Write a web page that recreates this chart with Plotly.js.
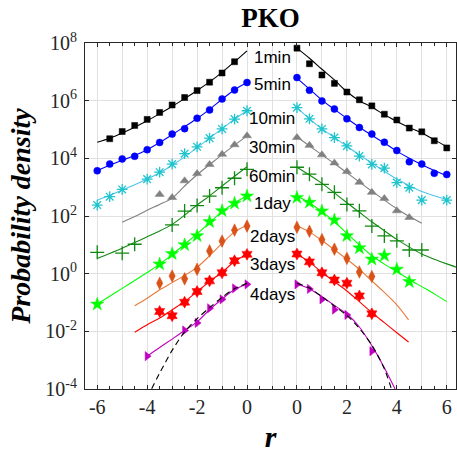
<!DOCTYPE html>
<html><head><meta charset="utf-8">
<script src="https://cdn.plot.ly/plotly-3.0.1.min.js"></script>
<style>html,body{margin:0;padding:0;background:#fff}#chart{width:457px;height:453px}</style>
</head><body><div id="chart"></div>
<script>
// ---- DATA: values are log10(probability density) ----
// left panel: r <= 0 ; right panel: r >= 0
const seriesNames = ["1min","5min","10min","30min","60min","1day","2days","3days","4days"];

// 1min
const min1_rL = [-5.5,-5,-4.5,-4,-3.5,-3,-2.5,-2,-1.5,-1,-0.5];
const min1_yL = [4.68,4.93,5.14,5.35,5.59,5.85,6.11,6.35,6.64,6.96,7.35];
const min1_rR = [0,0.5,1,1.5,2,2.5,3,3.5,4,4.5,5,5.5,6];
const min1_yR = [7.82,7.28,6.89,6.60,6.30,6.03,5.82,5.53,5.33,5.05,4.92,4.61,4.36];
const min1_fitRL = [-6,-5.5,-5,-4.5,-4,-3.5,-3,-2.5,-2,-1.5,-1,-0.5,0];
const min1_fitL = [4.56,4.70,4.88,5.08,5.30,5.55,5.80,6.07,6.35,6.65,6.98,7.35,7.73];
const min1_fitRR = [0,0.5,1,1.5,2,2.5,3,3.5,4,4.5,5,5.5,6];
const min1_fitR = [7.82,7.47,7.09,6.72,6.31,6.00,5.78,5.51,5.28,5.07,4.88,4.64,4.41];

// 5min
const min5_rL = [-6,-5.5,-5,-4.5,-4,-3.5,-3,-2.5,-2,-1.5,-1,-0.5,0];
const min5_yL = [3.57,3.80,3.98,4.07,4.30,4.55,4.84,5.03,5.39,5.68,6.06,6.37,6.63];
const min5_rR = [0,0.5,1,1.5,2,2.5,3,3.5,4,4.5,5,5.5,6];
const min5_yR = [6.80,6.36,5.99,5.71,5.37,5.07,4.84,4.56,4.27,3.88,3.80,3.48,3.44];
const min5_fitRL = [-6,-5.5,-5,-4.5,-4,-3.5,-3,-2.5,-2,-1.5,-1,-0.5,0];
const min5_fitL = [3.57,3.76,3.93,4.10,4.30,4.55,4.82,5.10,5.38,5.70,6.05,6.38,6.63];
const min5_fitRR = [0,0.5,1,1.5,2,2.5,3,3.5,4,4.5,5,5.5,6];
const min5_fitR = [6.78,6.40,6.02,5.70,5.38,5.08,4.80,4.53,4.25,4.00,3.78,3.58,3.40];

// 10min
const min10_rL = [-6,-5.5,-5,-4,-3.5,-3,-2.5,-2,-1.5,-1,-0.5,0];
const min10_yL = [2.38,2.67,2.92,3.28,3.52,3.80,4.16,4.40,4.70,5.02,5.36,5.65];
const min10_rR = [0,0.5,1,1.5,2,2.5,3,3.5,4,4.5,5,6];
const min10_yR = [5.76,5.37,5.02,4.72,4.43,4.08,3.79,3.66,3.16,2.98,2.55,2.55];
const min10_fitRL = [-6,-5.5,-5,-4.5,-4,-3.5,-3,-2.5,-2,-1.5,-1,-0.5,0];
const min10_fitL = [2.55,2.72,2.90,3.08,3.28,3.50,3.76,4.05,4.37,4.70,5.03,5.36,5.65];
const min10_fitRR = [0,0.5,1,1.5,2,2.5,3,3.5,4,4.5,5,5.5,6];
const min10_fitR = [5.76,5.37,5.02,4.72,4.42,4.12,3.84,3.55,3.28,3.05,2.85,2.70,2.57];

// 30min
const min30_rL = [-3.5,-3,-2.5,-2,-1.5,-1,-0.5,0];
const min30_yL = [2.75,2.64,3.22,3.47,3.79,4.14,4.47,4.78];
const min30_rR = [0,0.5,1,1.5,2,2.5,3,3.5,4,4.5];
const min30_yR = [4.72,4.45,4.12,3.84,3.54,3.17,2.82,2.61,2.18,1.95];
const min30_fitRL = [-5,-4.5,-4,-3.5,-3,-2.5,-2,-1.5,-1,-0.5,0];
const min30_fitL = [1.78,1.98,2.20,2.40,2.62,3.04,3.43,3.78,4.13,4.46,4.78];
const min30_fitRR = [0,0.5,1,1.5,2,2.5,3,3.5,4,4.5,5];
const min30_fitR = [4.75,4.43,4.12,3.82,3.50,3.18,2.86,2.55,2.25,1.98,1.75];

// 60min
const min60_rL = [-6,-5,-4.5,-3,-2.5,-2,-1.5,-1,-0.5,0];
const min60_yL = [0.74,0.71,1.02,1.69,2.17,2.36,2.69,2.98,3.31,3.62];
const min60_rR = [0,0.5,1,1.5,2,2.5,3,3.5,4,4.5,5];
const min60_yR = [3.69,3.45,3.10,2.82,2.40,2.18,1.65,1.31,1.14,0.82,0.82];
const min60_fitRL = [-6,-5.5,-5,-4.5,-4,-3.5,-3,-2.5,-2,-1.5,-1,-0.5,0];
const min60_fitL = [0.53,0.70,0.88,1.08,1.28,1.48,1.71,2.03,2.38,2.70,3.04,3.38,3.71];
const min60_fitRR = [0,0.5,1,1.5,2,2.5,3,3.5,4,4.5,5,5.5,6,6.4];
const min60_fitR = [3.69,3.42,3.13,2.80,2.46,2.13,1.80,1.49,1.19,0.92,0.68,0.50,0.34,0.22];

// 1day
const day1_rL = [-6,-3.5,-3,-2.5,-2,-1.5,-1,-0.5,0];
const day1_yL = [-1.06,0.33,0.69,1.00,1.31,1.80,2.18,2.44,2.69];
const day1_rR = [0,0.5,1,1.5,2,2.5,3,3.5,4,4.5];
const day1_yR = [2.64,2.47,2.17,1.86,1.31,0.89,0.50,0.63,0.15,-0.28];
const day1_fitRL = [-6,-5.5,-5,-4.5,-4,-3.5,-3,-2.5,-2,-1.5,-1,-0.5,0];
const day1_fitL = [-1.05,-0.78,-0.51,-0.24,0.04,0.33,0.66,1.02,1.38,1.77,2.15,2.45,2.70];
const day1_fitRR = [0,0.5,1,1.5,2,2.5,3,3.5,4,4.5,5,5.5,6];
const day1_fitR = [2.70,2.45,2.15,1.80,1.40,1.00,0.62,0.33,0.07,-0.20,-0.45,-0.70,-0.97];

// 2days
const day2_rL = [-3.5,-3,-2.5,-2,-1.5,-1,-0.5,0];
const day2_yL = [-0.33,-0.08,-0.18,0.15,0.79,1.13,1.51,1.65];
const day2_rR = [0,0.5,1,1.5,2,2.5,3];
const day2_yR = [1.61,1.47,1.18,0.85,0.53,0.06,-0.10];
const day2_fitRL = [-4.5,-4,-3.5,-3,-2.5,-2,-1.5,-1,-0.5,0];
const day2_fitL = [-1.11,-0.85,-0.56,-0.31,-0.06,0.22,0.62,1.05,1.45,1.68];
const day2_fitRR = [0,0.5,1,1.5,2,2.5,3,3.5,4,4.47];
const day2_fitR = [1.65,1.45,1.15,0.83,0.50,0.15,-0.25,-0.65,-1.08,-1.60];

// 3days
const day3_rL = [-3.5,-3,-2.5,-2,-1.5,-1,-0.5,0];
const day3_yL = [-1.31,-1.46,-0.99,-0.62,-0.25,0.03,0.45,0.67];
const day3_rR = [0,0.5,1,1.5,2,2.5,3];
const day3_yR = [0.68,0.41,0.03,-0.22,-0.33,-0.77,-1.39];
const day3_fitRL = [-4.5,-4,-3.5,-3,-2.5,-2,-1.5,-1,-0.5,0];
const day3_fitL = [-2.03,-1.77,-1.54,-1.25,-0.97,-0.62,-0.27,0.05,0.42,0.67];
const day3_fitRR = [0,0.5,1,1.5,2,2.5,3,3.5,4,4.47];
const day3_fitR = [0.68,0.40,0.05,-0.28,-0.60,-0.97,-1.35,-1.70,-2.05,-2.37];

// 4days
const day4_rL = [-4,-2.5,-2,-1.5,-1,-0.5,0];
const day4_yL = [-2.86,-1.97,-1.71,-1.20,-0.89,-0.51,-0.37];
const day4_rR = [0,0.5,1,1.5,2,3];
const day4_yR = [-0.37,-0.53,-0.89,-1.25,-1.43,-2.69];
const day4_fitRL = [-4,-3.5,-3,-2.5,-2,-1.5,-1,-0.5,0];
const day4_fitL = [-2.86,-2.56,-2.27,-1.97,-1.67,-1.25,-0.88,-0.55,-0.37];
const day4_fitRR = [0,0.5,1,1.5,2,2.5,3,3.5,3.93];
const day4_fitR = [-0.37,-0.52,-0.80,-1.10,-1.40,-1.85,-2.50,-3.26,-4.00];

// dashed reference curve (4days)
const ref_rL = [-4,-3.5,-3,-2.5,-2,-1.5,-1,-0.5,0];
const ref_yL = [-4.3,-3.45,-2.66,-2.02,-1.56,-1.18,-0.82,-0.52,-0.33];
const ref_rR = [0,0.5,1,1.5,2,2.5,3,3.5,4];
const ref_yR = [-0.33,-0.50,-0.80,-1.12,-1.45,-1.90,-2.48,-3.30,-4.60];

// axis tick labels (right panel starts again at 0)
const xTickVals = [-6,-4,-2,0,2,4,6,8];
const xTickText = ["-6","-4","-2","0","0","2","4","6"];
const yTickVals = [1e-4,1e-2,1,1e2,1e4,1e6,1e8];
const yTickText = ["10<sup>-4</sup>","10<sup>-2</sup>","10<sup>0</sup>","10<sup>2</sup>","10<sup>4</sup>","10<sup>6</sup>","10<sup>8</sup>"];

// label anchor heights (log10) for series names
const labelLog = [7.51,6.55,5.39,4.39,3.37,2.45,1.28,0.32,-0.72];

// ---- STYLE ----
const RIGHT_SHIFT = 2; // right panel placed 2 units to the right of the left panel
const XRANGE = [-6.49, 8.37];
const styles = [
  {mc:"#000000", lc:"#000000", sym:"square", size:6},
  {mc:"#0000ff", lc:"#0000ff", sym:"circle", size:7},
  {mc:"#1fc4cc", lc:"#4fc3f0", sym:"asterisk-open", size:9, lw:1.3},
  {mc:"#808080", lc:"#808080", sym:"triangle-up", size:8},
  {mc:"#118811", lc:"#118811", sym:"cross-thin-open", size:10, lw:1.3},
  {mc:"#00ff00", lc:"#00ff00", sym:"star", size:10},
  {mc:"#d95319", lc:"#e87a3c", sym:"diamond-tall", size:9},
  {mc:"#ff0000", lc:"#ff0000", sym:"hexagram", size:9},
  {mc:"#bf00bf", lc:"#bf00bf", sym:"triangle-right", size:8}
];

const all = {
  "1min":[min1_rL,min1_yL,min1_rR,min1_yR,min1_fitRL,min1_fitL,min1_fitRR,min1_fitR],
  "5min":[min5_rL,min5_yL,min5_rR,min5_yR,min5_fitRL,min5_fitL,min5_fitRR,min5_fitR],
  "10min":[min10_rL,min10_yL,min10_rR,min10_yR,min10_fitRL,min10_fitL,min10_fitRR,min10_fitR],
  "30min":[min30_rL,min30_yL,min30_rR,min30_yR,min30_fitRL,min30_fitL,min30_fitRR,min30_fitR],
  "60min":[min60_rL,min60_yL,min60_rR,min60_yR,min60_fitRL,min60_fitL,min60_fitRR,min60_fitR],
  "1day":[day1_rL,day1_yL,day1_rR,day1_yR,day1_fitRL,day1_fitL,day1_fitRR,day1_fitR],
  "2days":[day2_rL,day2_yL,day2_rR,day2_yR,day2_fitRL,day2_fitL,day2_fitRR,day2_fitR],
  "3days":[day3_rL,day3_yL,day3_rR,day3_yR,day3_fitRL,day3_fitL,day3_fitRR,day3_fitR],
  "4days":[day4_rL,day4_yL,day4_rR,day4_yR,day4_fitRL,day4_fitL,day4_fitRR,day4_fitR]
};

const pow = a => a.map(v => Math.pow(10, v));
const shift = a => a.map(v => v + RIGHT_SHIFT);

const traces = [];
seriesNames.forEach((name, i) => {
  const [rL,yL,rR,yR,fRL,fL,fRR,fR] = all[name];
  const st = styles[i];
  const lineStyle = {color: st.lc, width: 1.1, shape: "spline", smoothing: 0.8};
  traces.push({x: fRL, y: pow(fL), mode: "lines", line: lineStyle, hoverinfo: "skip", showlegend: false});
  traces.push({x: shift(fRR), y: pow(fR), mode: "lines", line: lineStyle, hoverinfo: "skip", showlegend: false});
  const mk = {symbol: st.sym, size: st.size, color: st.mc, line: {color: st.mc, width: st.lw || 0.5}};
  traces.push({x: rL, y: pow(yL), mode: "markers", marker: mk, name: name, showlegend: false});
  traces.push({x: shift(rR), y: pow(yR), mode: "markers", marker: mk, name: name, showlegend: false});
});
const dash = {color: "#000000", width: 1.1, dash: "6px,4px", shape: "spline", smoothing: 0.8};
traces.push({x: ref_rL, y: pow(ref_yL), mode: "lines", line: dash, showlegend: false, hoverinfo: "skip"});
traces.push({x: shift(ref_rR), y: pow(ref_yR), mode: "lines", line: dash, showlegend: false, hoverinfo: "skip"});
// empty trace so the half-unit tick axis is drawn
traces.push({x: [], y: [], xaxis: "x2", yaxis: "y", mode: "markers", showlegend: false, hoverinfo: "skip"});

const annotations = seriesNames.map((name, i) => ({
  x: 1, y: labelLog[i], xref: "x", yref: "y", text: name, showarrow: false,
  font: {family: "Liberation Sans, Arial, sans-serif", size: 17, color: "#000"},
  xanchor: "center", yanchor: "middle"
}));

const tickFont = {family: "Liberation Serif, Times New Roman, serif", size: 20, color: "#262626"};

const layout = {
  width: 457, height: 453,
  margin: {l: 85, r: 1, t: 43, b: 64},
  paper_bgcolor: "#ffffff", plot_bgcolor: "#ffffff",
  showlegend: false,
  title: {text: "<b>PKO</b>", x: 0.5, xref: "paper", xanchor: "center",
          y: 1 - 18/453, yref: "container", yanchor: "middle",
          font: {family: "Liberation Serif, Times New Roman, serif", size: 27, color: "#000"}},
  xaxis: {
    range: XRANGE, tickmode: "array", tickvals: xTickVals, ticktext: xTickText,
    ticks: "inside", ticklen: 4, tickwidth: 1, tickcolor: "#262626",
    showline: true, linecolor: "#262626", linewidth: 1, mirror: "ticks",
    showgrid: true, gridcolor: "#e1e1e1", gridwidth: 1, zeroline: false,
    minor: {tickmode: "linear", tick0: 0, dtick: 1, ticks: "", showgrid: true, gridcolor: "#e1e1e1", gridwidth: 1},
    tickfont: tickFont,
    title: {text: "<b><i>r</i></b>", standoff: 8,
            font: {family: "Liberation Serif, Times New Roman, serif", size: 30, color: "#000"}}
  },
  xaxis2: {
    overlaying: "x", anchor: "y", side: "bottom", range: XRANGE,
    tickmode: "linear", tick0: 0, dtick: 0.5, ticks: "inside", ticklen: 3, tickwidth: 1, tickcolor: "#262626",
    showticklabels: false, showgrid: false, zeroline: false, showline: false, mirror: "ticks"
  },
  yaxis: {
    type: "log", range: [-4, 8], tickmode: "array", tickvals: yTickVals, ticktext: yTickText,
    ticks: "inside", ticklen: 4, tickwidth: 1, tickcolor: "#262626",
    showline: true, linecolor: "#262626", linewidth: 1, mirror: "ticks",
    showgrid: true, gridcolor: "#e1e1e1", gridwidth: 1, zeroline: false,
    tickfont: tickFont, ticklabelstandoff: 3,
    title: {text: "<b><i>Probability density</i></b>", standoff: 6,
            font: {family: "Liberation Serif, Times New Roman, serif", size: 28, color: "#000"}}
  },
  annotations: annotations
};

Plotly.newPlot("chart", traces, layout, {staticPlot: true, displayModeBar: false});
</script></body></html>
